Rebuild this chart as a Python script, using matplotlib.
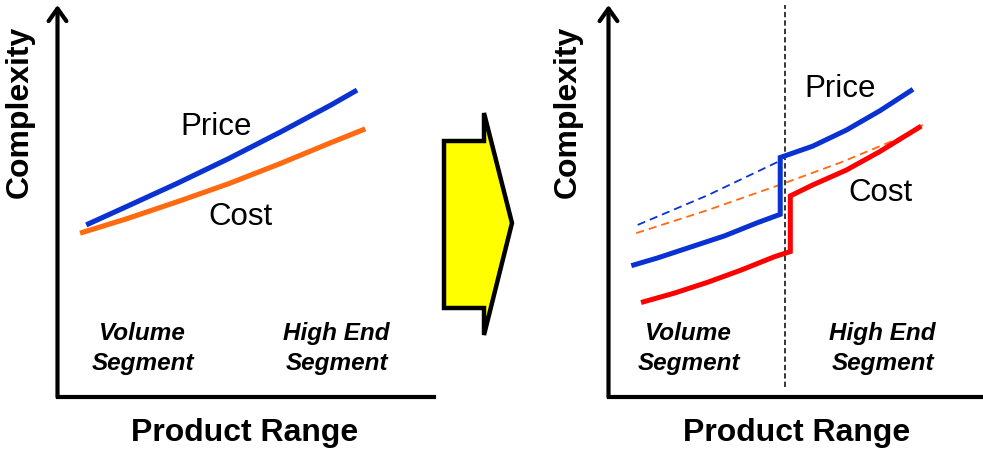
import matplotlib
matplotlib.use("Agg")
import matplotlib.pyplot as plt
from matplotlib.patches import Polygon

plt.rcParams['font.family'] = ['Liberation Sans', 'DejaVu Sans']

# ---------------- data ----------------
# Left panel
left_price_x = [8.4, 20, 35, 50, 65, 80, 87.6]
left_price_y = [43.9, 48.5, 54.5, 60.8, 67.5, 74.5, 78.3]
left_cost_x = [6.6, 20, 35, 50, 65, 80, 90]
left_cost_y = [41.8, 45.4, 49.8, 54.4, 59.5, 64.9, 68.4]

# Right panel (solid step curves)
right_price_x = [6.1, 13.2, 22.1, 31.0, 39.9, 45.9, 45.9, 54.6, 63.6, 72.5, 81.4]
right_price_y = [33.5, 35.5, 38.3, 41.1, 44.5, 46.6, 61.1, 64.0, 68.1, 73.0, 78.5]
right_cost_x = [8.7, 17.6, 26.6, 35.5, 44.4, 48.6, 48.6, 54.6, 63.6, 72.5, 83.6]
right_cost_y = [24.1, 26.5, 29.3, 32.4, 35.8, 37.1, 51.3, 54.1, 57.9, 62.6, 69.1]
# Right panel (dashed: old curves)
old_price_x = [7.8, 26.6, 46.4]
old_price_y = [43.9, 51.5, 60.5]
old_cost_x = [7.4, 26.6, 45.7, 62.0, 76.9, 84.0]
old_cost_y = [41.8, 47.7, 54.1, 59.8, 65.7, 69.4]
divider_x = 47.1

segment_labels = ["Volume\nSegment", "High End\nSegment"]
x_title = "Product Range"
y_title = "Complexity"

BLUE = '#0a32d2'
ORANGE = '#ff6a10'
RED = '#ff0000'

W, H = 983, 450
fig = plt.figure(figsize=(W / 100, H / 100), dpi=100)

def px_axes(left, right, top, bottom):
    return fig.add_axes([left / W, 1 - bottom / H, (right - left) / W, (bottom - top) / H])

axL = px_axes(57.5, 434, 5, 397)
axR = px_axes(608.5, 983, 5, 397)
axL.set_xlim(0, 110.1)
axR.set_xlim(0, 100.1)

for ax in (axL, axR):
    ax.set_ylim(0, 100)
    ax.set_axis_off()
    # x-axis
    ax.plot([0, 1], [0, 0], transform=ax.transAxes, color='black', lw=3,
            clip_on=False, solid_capstyle='projecting')
    # y-axis with open arrow
    ax.annotate('', xy=(0, 1), xycoords='axes fraction', xytext=(0, 0),
                textcoords='axes fraction',
                arrowprops=dict(arrowstyle='->,head_length=0.45,head_width=0.32',
                                lw=3, color='black', shrinkA=0, shrinkB=0,
                                mutation_scale=20))

LBL = 22.5
SEG = 17.5

# Left panel curves
axL.plot(left_cost_x, left_cost_y, color=ORANGE, lw=3.7, solid_capstyle='butt', clip_on=False)
axL.plot(left_price_x, left_price_y, color=BLUE, lw=3.7, solid_capstyle='butt', clip_on=False)
axL.text(46.5, 68.9, "Price", fontsize=LBL, ha='center', va='center')
axL.text(53.5, 45.9, "Cost", fontsize=LBL, ha='center', va='center')
axL.text(24.9, 12.3, segment_labels[0], fontsize=SEG, fontweight='bold', fontstyle='italic',
         ha='center', va='center', linespacing=1.38)
axL.text(81.6, 12.3, segment_labels[1], fontsize=SEG, fontweight='bold', fontstyle='italic',
         ha='center', va='center', linespacing=1.38)

# Right panel
axR.plot([divider_x, divider_x], [2.6, 100], color='black', lw=1.1, dashes=[3.5, 2], clip_on=False)
axR.plot(old_price_x, old_price_y, color=BLUE, lw=1.3, dashes=[4.5, 2.8])
axR.plot(old_cost_x, old_cost_y, color=ORANGE, lw=1.3, dashes=[4.5, 2.8])
axR.plot(right_cost_x, right_cost_y, color=RED, lw=3.6, solid_capstyle='butt',
         solid_joinstyle='miter')
axR.plot(right_price_x, right_price_y, color=BLUE, lw=3.6, solid_capstyle='butt',
         solid_joinstyle='miter')
axR.text(61.8, 78.6, "Price", fontsize=LBL, ha='center', va='center')
axR.text(72.7, 52.0, "Cost", fontsize=LBL, ha='center', va='center')
axR.text(21.4, 12.3, segment_labels[0], fontsize=SEG, fontweight='bold', fontstyle='italic',
         ha='center', va='center', linespacing=1.38)
axR.text(73.3, 12.3, segment_labels[1], fontsize=SEG, fontweight='bold', fontstyle='italic',
         ha='center', va='center', linespacing=1.38)

# Axis titles
for cx in (245, 797):
    fig.text(cx / W, 1 - 433 / H, x_title, fontsize=23, fontweight='bold',
             ha='center', va='center')
for cx in (20, 568):
    fig.text(cx / W, 1 - 112 / H, y_title, fontsize=23, fontweight='bold',
             ha='center', va='center', rotation=90)

# Big yellow arrow between panels
arrow_px = [(444, 141), (484, 141), (484, 113), (512, 223),
            (484, 335), (484, 308), (444, 308)]
arrow_fig = [(x / W, 1 - y / H) for x, y in arrow_px]
fig.patches.append(Polygon(arrow_fig, closed=True, transform=fig.transFigure,
                           facecolor='#ffff00', edgecolor='black', lw=3.2,
                           joinstyle='miter', figure=fig))

fig.savefig('out.png', dpi=100)
